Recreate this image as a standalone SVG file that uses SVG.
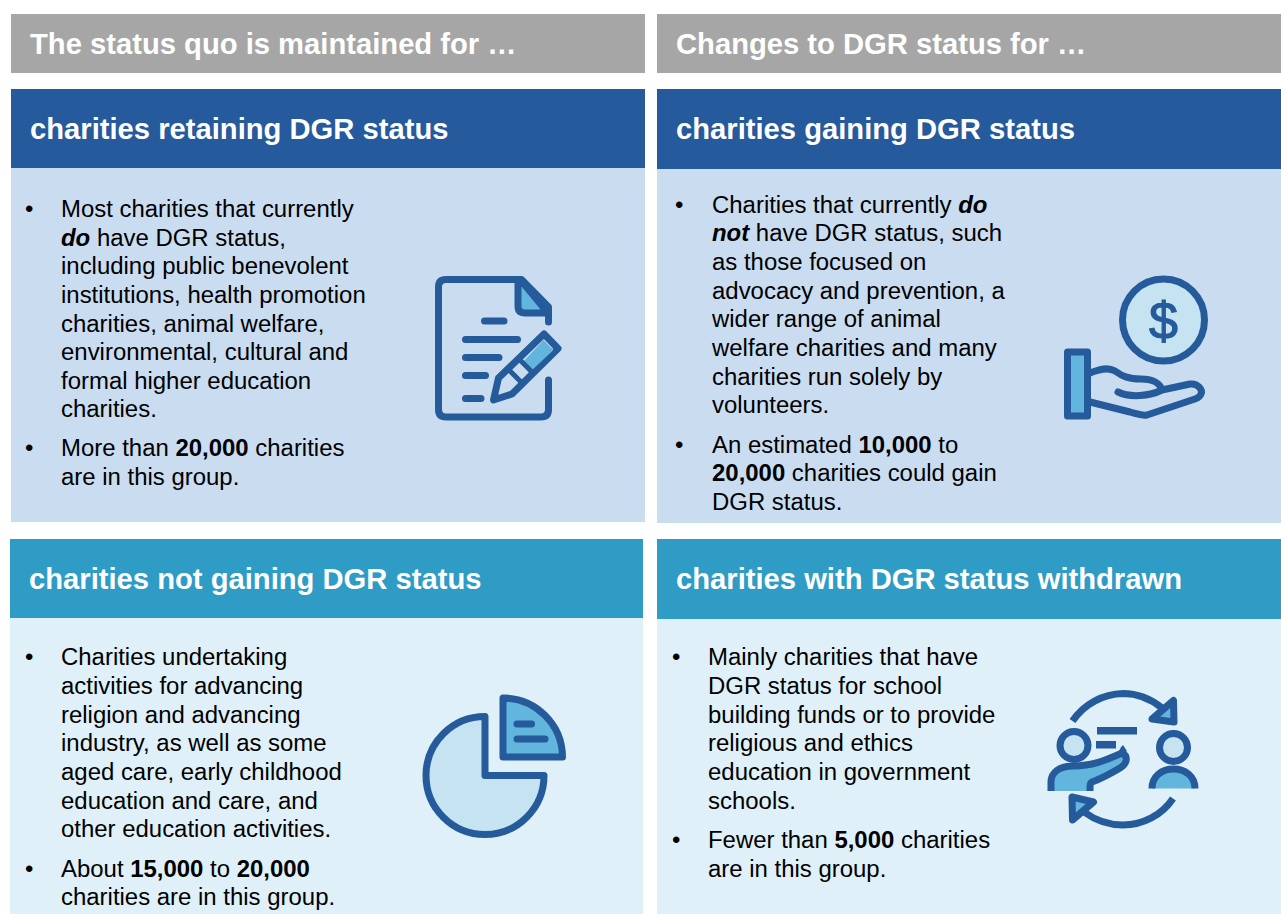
<svg xmlns="http://www.w3.org/2000/svg" width="1281" height="914" viewBox="0 0 1281 914">
<style>
text{font-family:"Liberation Sans",Arial,sans-serif;fill:#000}
.h{font-size:29.2px;font-weight:700;fill:#fff}
.b{font-size:23.95px}
.s{font-weight:700}
.e{font-weight:700;font-style:italic}
.i{fill:none;stroke:#255b9b;stroke-width:7;stroke-linecap:round;stroke-linejoin:round}
.m{fill:#62b5dc}
.l{fill:#c5e3f0}
</style>
<rect width="1281" height="914" fill="#fff"/>
<g id="header-left"><rect x="11" y="14" width="634" height="59" fill="#a6a6a6"/><text class="h" x="30" y="54">The status quo is maintained for …</text></g>
<g id="header-right"><rect x="657" y="14" width="624" height="59" fill="#a6a6a6"/><text class="h" x="676" y="54">Changes to DGR status for …</text></g>
<g id="retaining">
<rect x="11" y="168" width="634" height="354" fill="#cadcf0"/>
<rect x="11" y="89" width="634" height="79" fill="#255a9c"/>
<text class="h" x="30" y="139">charities retaining DGR status</text>
<text class="b" x="25" y="217">•</text>
<text class="b" x="61" y="217">Most charities that currently</text>
<text class="b" x="61" y="246"><tspan class="e">do</tspan> have DGR status,</text>
<text class="b" x="61" y="274">including public benevolent</text>
<text class="b" x="61" y="303">institutions, health promotion</text>
<text class="b" x="61" y="332">charities, animal welfare,</text>
<text class="b" x="61" y="360">environmental, cultural and</text>
<text class="b" x="61" y="389">formal higher education</text>
<text class="b" x="61" y="417">charities.</text>
<text class="b" x="25" y="456">•</text>
<text class="b" x="61" y="456">More than <tspan class="s">20,000</tspan> charities</text>
<text class="b" x="61" y="485">are in this group.</text>
<g>
<path class="i" d="M548.500 322V307L521.500 279.500H446Q438.500 279.500 438.500 287V409.500Q438.500 417 446 417H541Q548.500 417 548.500 409.500V380"/>
<path class="i m" d="M518 281V306Q518 313 525 313H548L521.500 281Z"/>
<path class="i" d="M484.500 321H504M465.500 339.500H517.500M465.500 357.500H499M465.500 375.500H485.500M465.500 398.500H481"/>
<path class="i" d="M493.500 400L498.500 378L544 334L558 348.500L512 394Z"/>
<path class="m" d="M522 363L543.500 340L553.500 350L530 372Z"/>
<path class="i" d="M510 371L521 382M521 361L532 372" style="stroke-width:5"/>
</g>
</g>
<g id="gaining">
<rect x="657" y="169" width="624" height="354" fill="#cadcf0"/>
<rect x="657" y="89" width="624" height="80" fill="#255a9c"/>
<text class="h" x="676" y="139">charities gaining DGR status</text>
<text class="b" x="675" y="213">•</text>
<text class="b" x="712" y="213">Charities that currently <tspan class="e">do</tspan></text>
<text class="b" x="712" y="241"><tspan class="e">not</tspan> have DGR status, such</text>
<text class="b" x="712" y="270">as those focused on</text>
<text class="b" x="712" y="299">advocacy and prevention, a</text>
<text class="b" x="712" y="327">wider range of animal</text>
<text class="b" x="712" y="356">welfare charities and many</text>
<text class="b" x="712" y="385">charities run solely by</text>
<text class="b" x="712" y="413">volunteers.</text>
<text class="b" x="675" y="453">•</text>
<text class="b" x="712" y="453">An estimated <tspan class="s">10,000</tspan> to</text>
<text class="b" x="712" y="481"><tspan class="s">20,000</tspan> charities could gain</text>
<text class="b" x="712" y="510">DGR status.</text>
<g>
<circle class="i l" cx="1163.500" cy="320" r="41"/>
<text x="1163.500" y="339" text-anchor="middle" style="font-size:52px;fill:#255b9b;stroke:#255b9b;stroke-width:1.200">$</text>
<rect class="i m" x="1067.500" y="352" width="20" height="64"/>
<path class="i" d="M1090 373C1100 369 1108 367 1115 371C1122 376 1128 379 1141 379C1152 379 1160 383 1162 390C1150 396 1130 398 1118 392M1162 390L1190 384C1198 383 1203 390 1201 394C1200 397 1198 398 1195 399L1147 415C1141 416 1137 414 1130 412L1090 402"/>
</g>
</g>
<g id="not-gaining">
<rect x="10" y="618" width="633" height="296" fill="#dff0f8"/>
<rect x="10" y="539" width="633" height="79" fill="#2e9cc4"/>
<text class="h" x="29" y="589">charities not gaining DGR status</text>
<text class="b" x="25" y="665">•</text>
<text class="b" x="61" y="665">Charities undertaking</text>
<text class="b" x="61" y="694">activities for advancing</text>
<text class="b" x="61" y="723">religion and advancing</text>
<text class="b" x="61" y="751">industry, as well as some</text>
<text class="b" x="61" y="780">aged care, early childhood</text>
<text class="b" x="61" y="809">education and care, and</text>
<text class="b" x="61" y="837">other education activities.</text>
<text class="b" x="25" y="877">•</text>
<text class="b" x="61" y="877">About <tspan class="s">15,000</tspan> to <tspan class="s">20,000</tspan></text>
<text class="b" x="61" y="905">charities are in this group.</text>
<g>
<path class="i l" d="M485 716.500A59 59 0 1 0 544 775.500H485Z"/>
<path class="i m" d="M503 698V757H562.500A59.500 59.500 0 0 0 503 698Z"/>
<path class="i" d="M517 724H531.500M517 739H545"/>
</g>
</g>
<g id="withdrawn">
<rect x="657" y="619" width="624" height="295" fill="#dff0f8"/>
<rect x="657" y="539" width="624" height="80" fill="#2e9cc4"/>
<text class="h" x="676" y="589">charities with DGR status withdrawn</text>
<text class="b" x="672" y="665">•</text>
<text class="b" x="708" y="665">Mainly charities that have</text>
<text class="b" x="708" y="694">DGR status for school</text>
<text class="b" x="708" y="723">building funds or to provide</text>
<text class="b" x="708" y="751">religious and ethics</text>
<text class="b" x="708" y="780">education in government</text>
<text class="b" x="708" y="809">schools.</text>
<text class="b" x="672" y="848">•</text>
<text class="b" x="708" y="848">Fewer than <tspan class="s">5,000</tspan> charities</text>
<text class="b" x="708" y="877">are in this group.</text>
<g>
<path class="i" style="stroke-linecap:butt;stroke-width:7" d="M1072.500 721C1084 704 1103 694 1123 693.500C1138 693.500 1151 699 1162 708M1173 798.500C1162 815 1143 825 1123 825C1108 825 1095 820 1084 812"/>
<path class="i m" d="M1173.500 700.500L1174 722L1152 719Z"/>
<path class="i m" d="M1072 797L1072.500 820L1093.500 802Z"/>
<path fill="#255b9b" d="M1097 727H1137V734.500H1097ZM1096 741H1116V748.500H1096Z"/>
<circle class="i l" cx="1074" cy="745.500" r="14"/>
<circle class="i l" cx="1173.500" cy="747.500" r="14"/>
<path class="m" d="M1051 791V782C1051 772 1060 766 1073 766C1093 766 1106 760 1122 753C1127 755 1127 762 1120 767L1090 782V791Z"/>
<path class="i" style="stroke-linecap:butt" d="M1051 791V782C1051 772 1060 766 1073 766C1093 766 1106 760 1122 753"/>
<path class="i" style="stroke-linecap:butt" d="M1125 748C1122 750 1123 752 1122 753C1128 756 1128 763 1120 768C1110 774 1100 779 1092 782C1090 783 1090 785 1090 791"/>
<path class="m" d="M1152 788.500C1152 776 1162 769 1173.500 769C1185 769 1195 776 1195 788.500Z"/>
<path class="i" style="stroke-linecap:butt" d="M1152 788.500C1152 776 1162 769 1173.500 769C1185 769 1195 776 1195 788.500"/>
</g>
</g>
</svg>
